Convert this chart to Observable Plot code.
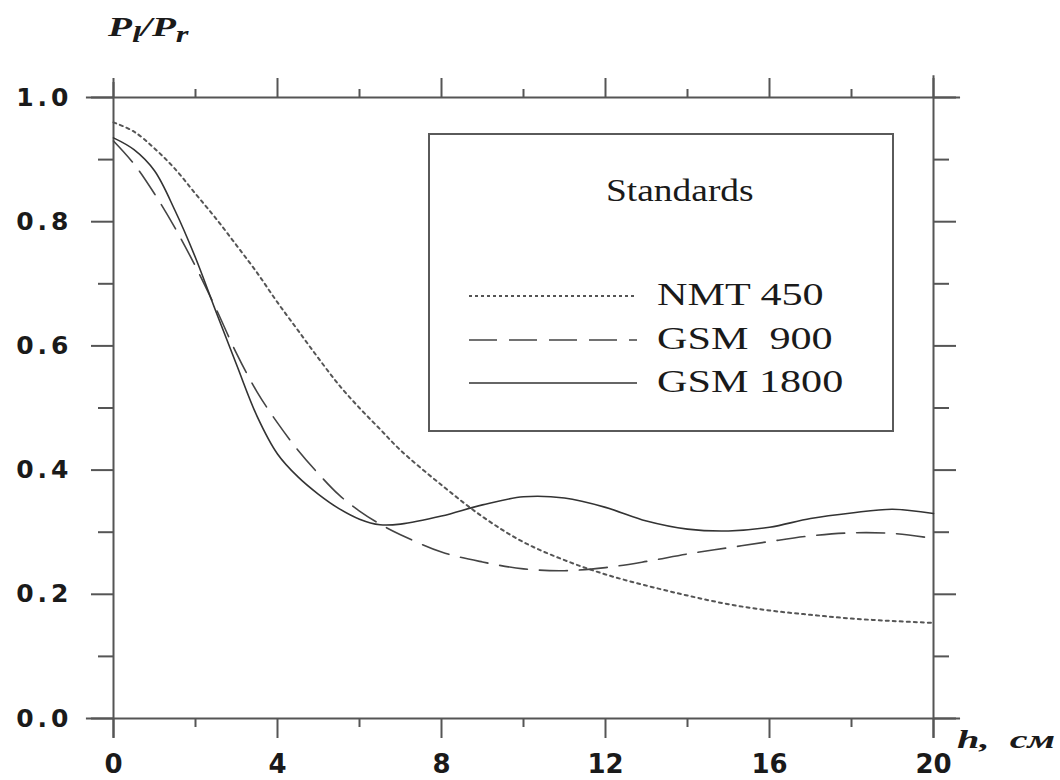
<!DOCTYPE html>
<html>
<head>
<meta charset="utf-8">
<script src="https://cdn.jsdelivr.net/npm/d3@7"></script>
<script src="https://cdn.jsdelivr.net/npm/@observablehq/plot@0.6"></script>
<style>
  html, body { margin: 0; padding: 0; background: #fff; }
  #wrap { position: relative; width: 1060px; height: 780px; overflow: hidden; }
  .ov { position: absolute; white-space: pre; transform-origin: 0 0; color: #1a1a1a; }
  .serif { font-family: "Liberation Serif", "Times New Roman", serif; }
  #legend { position: absolute; left: 428px; top: 133px; width: 462px; height: 295px;
            border: 2px solid #5a5a5a; background: #fff; }
</style>
</head>
<body>
<div id="wrap"></div>
<script>
// ---- data ----
const h       = [0, 0.5, 1, 1.5, 2, 2.5, 3, 3.5, 4, 4.5, 5, 5.5, 6, 6.5, 7, 8, 9, 10, 11, 12, 13, 14, 15, 16, 17, 18, 19, 20];
const nmt450  = [0.960, 0.945, 0.918, 0.885, 0.845, 0.805, 0.762, 0.718, 0.670, 0.625, 0.580, 0.537, 0.500, 0.466, 0.432, 0.376, 0.325, 0.284, 0.255, 0.232, 0.214, 0.198, 0.184, 0.174, 0.167, 0.161, 0.157, 0.154];
const gsm900  = [0.930, 0.893, 0.845, 0.790, 0.728, 0.660, 0.588, 0.526, 0.476, 0.432, 0.394, 0.360, 0.334, 0.313, 0.296, 0.268, 0.252, 0.241, 0.238, 0.243, 0.253, 0.265, 0.275, 0.285, 0.294, 0.299, 0.298, 0.290];
const gsm1800 = [0.935, 0.916, 0.882, 0.818, 0.742, 0.655, 0.570, 0.487, 0.426, 0.389, 0.361, 0.338, 0.321, 0.312, 0.313, 0.326, 0.344, 0.357, 0.355, 0.340, 0.318, 0.305, 0.302, 0.308, 0.322, 0.331, 0.337, 0.330];
const seriesNames = ["NMT 450", "GSM  900", "GSM 1800"];
const xMajor = [0, 4, 8, 12, 16, 20];
const xMinor = [2, 6, 10, 14, 18];
const yMajor = [0, 0.2, 0.4, 0.6, 0.8, 1.0];
const yMinor = [0.1, 0.3, 0.5, 0.7, 0.9];
const yTitle = "P<sub>l</sub>/P<sub>r</sub>";
const xTitle = "h,  см";
const legendTitle = "Standards";

// ---- styles ----
const axisInk = "#555";
const styles = [
  {dash: "3,4", width: 2, color: "#555"},
  {dash: "28,12", width: 1.6, color: "#444"},
  {dash: null, width: 1.6, color: "#333"}
];
const valuesBySeries = [nmt450, gsm900, gsm1800];
const rows = valuesBySeries.map((vals, i) => h.map((x, j) => ({h: x, v: vals[j], s: seriesNames[i]})));

const lineMarks = rows.map((r, i) => Plot.line(r, {
  x: "h", y: "v", curve: "catmull-rom",
  stroke: styles[i].color, strokeWidth: styles[i].width,
  strokeDasharray: styles[i].dash || undefined
}));

const tickCommon = {stroke: axisInk, strokeWidth: 2, tickFormat: () => "", label: null};

const chart = Plot.plot({
  width: 1060, height: 780,
  marginLeft: 113, marginRight: 127, marginTop: 97, marginBottom: 62,
  x: {domain: [0, 20], axis: null, label: null},
  y: {domain: [0, 1], axis: null, label: null},
  style: {background: "transparent", overflow: "visible"},
  marks: [
    // frame lines extended past the corners
    Plot.ruleY([0, 1], {x1: -0.66, x2: 20.66, stroke: axisInk, strokeWidth: 2}),
    Plot.ruleX([0], {y1: -0.032, y2: 1.024, stroke: axisInk, strokeWidth: 2}),
    Plot.ruleX([20], {y1: -0.032, y2: 1.035, stroke: axisInk, strokeWidth: 2}),
    // ticks
    Plot.axisX({anchor: "bottom", ticks: xMajor, tickSize: 20, ...tickCommon}),
    Plot.axisX({anchor: "bottom", ticks: xMinor, tickSize: 9, ...tickCommon}),
    Plot.axisX({anchor: "top", ticks: xMajor, tickSize: 20, ...tickCommon}),
    Plot.axisX({anchor: "top", ticks: xMinor, tickSize: 9, ...tickCommon}),
    Plot.axisY({anchor: "left", ticks: yMajor, tickSize: 22, ...tickCommon}),
    Plot.axisY({anchor: "left", ticks: yMinor, tickSize: 15, ...tickCommon}),
    Plot.axisY({anchor: "right", ticks: yMajor, tickSize: 22, ...tickCommon}),
    Plot.axisY({anchor: "right", ticks: yMinor, tickSize: 15, ...tickCommon}),
    // tick labels
    Plot.axisX({anchor: "bottom", ticks: xMajor, tickSize: 0, tickPadding: 36, label: null,
      tickFormat: d => String(d), fontSize: 26, fontWeight: "bold",
      fontFamily: "DejaVu Sans", fill: "#1a1a1a"}),
    Plot.axisY({anchor: "left", ticks: yMajor, tickSize: 0, tickPadding: 41, label: null,
      tickFormat: d3.format(".1f"), fontSize: 25, fontWeight: "bold",
      fontFamily: "DejaVu Sans", fill: "#1a1a1a"}),
    ...lineMarks
  ]
});

const wrap = document.getElementById("wrap");
wrap.appendChild(chart);
d3.select(chart).selectAll("g[aria-label='y-axis tick label'] text").style("letter-spacing", "4px");

// axis titles (HTML overlays, stretched like the reference)
function overlay(html, left, top, size, sx, extra) {
  const d = document.createElement("div");
  d.className = "ov serif";
  d.innerHTML = html;
  d.style.left = left + "px";
  d.style.top = top + "px";
  d.style.fontSize = size + "px";
  d.style.transform = `scaleX(${sx})`;
  Object.assign(d.style, extra || {});
  wrap.appendChild(d);
  return d;
}
overlay(yTitle, 108, 14, 27, 1.45, {fontWeight: "bold", fontStyle: "italic", lineHeight: "1"});
overlay(xTitle, 957, 727, 26, 1.55, {fontWeight: "bold", fontStyle: "italic", lineHeight: "1"});

// legend
const lg = document.createElement("div");
lg.id = "legend";
wrap.appendChild(lg);
const lt = document.createElement("div");
lt.className = "ov serif";
lt.textContent = legendTitle;
lt.style.fontSize = "32px";
lt.style.lineHeight = "1";
lt.style.left = (606 - 430) + "px";
lt.style.top = (174 - 135) + "px";
lt.style.transform = "scaleX(1.17)";
lg.appendChild(lt);

const rowY = [296, 340, 383];
seriesNames.forEach((name, i) => {
  const svg = d3.create("svg").attr("width", 172).attr("height", 10)
    .style("position", "absolute").style("left", (469 - 430) + "px").style("top", (rowY[i] - 5 - 135) + "px");
  svg.append("line").attr("x1", 0).attr("x2", 168).attr("y1", 5).attr("y2", 5)
    .attr("stroke", styles[i].color).attr("stroke-width", styles[i].width)
    .attr("stroke-dasharray", i === 0 ? "3,3" : styles[i].dash);
  lg.appendChild(svg.node());
  const t = document.createElement("div");
  t.className = "ov serif";
  t.textContent = name;
  t.style.fontSize = "31px";
  t.style.lineHeight = "1";
  t.style.left = (657 - 430) + "px";
  t.style.top = (rowY[i] - 17 - 135) + "px";
  t.style.transform = "scaleX(1.36)";
  lg.appendChild(t);
});
</script>
</body>
</html>
